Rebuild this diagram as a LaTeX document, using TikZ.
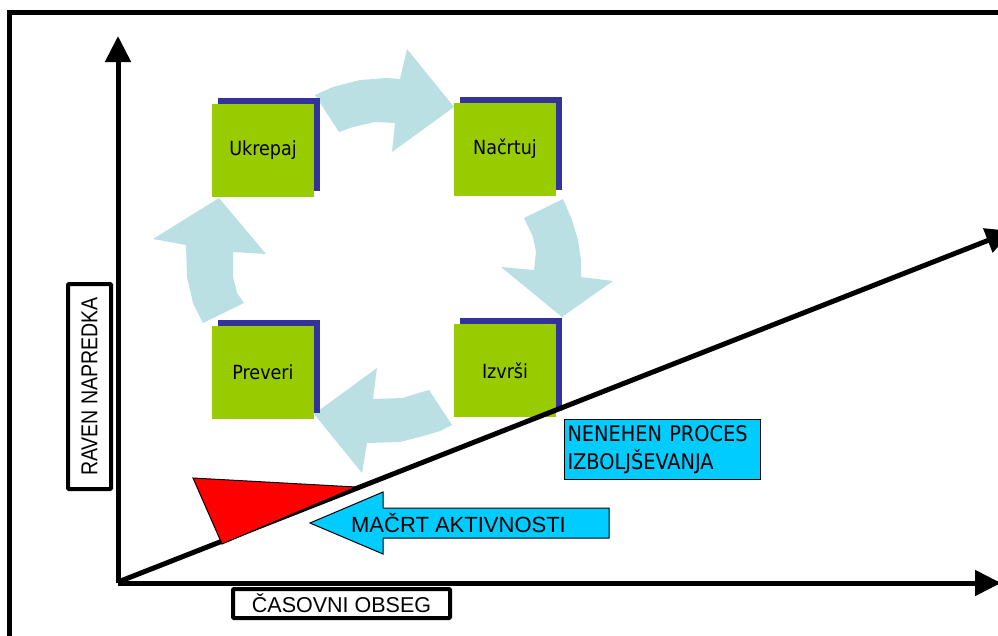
\documentclass[tikz,border=0pt]{standalone}
\usepackage{fontspec}
\setmainfont{Liberation Sans}
\newfontfamily\boxfont{DejaVu Sans Condensed}
\newfontfamily\narrowfont[FakeStretch=0.85]{Liberation Sans}
\usetikzlibrary{arrows.meta,shadows}

\definecolor{phasegreen}{HTML}{99CC00}
\definecolor{phaseblue}{HTML}{333399}
\definecolor{cyclecyan}{HTML}{BBE0E3}
\definecolor{labelcyan}{HTML}{00CCFF}

\begin{document}
\begin{tikzpicture}[x=1pt,y=-1pt,
    phase/.style={fill=phasegreen, minimum width=102pt, minimum height=93pt, inner sep=0pt,
        font=\boxfont\fontsize{19.5}{23}\selectfont,
        general shadow={fill=phaseblue, shadow xshift=6pt, shadow yshift=6pt}},
    cyclearrow/.style={fill=cyclecyan},
    axis/.style={line width=5pt, -{Triangle[width=25pt,length=26pt]}},
    tag/.style={draw, line width=4pt, fill=white, rounded corners=1pt, inner sep=0pt,
        font=\fontsize{21.5}{24}\selectfont}]
    \clip (0,0) rectangle (998,635);

    % Draw the outer frame
    \draw[line width=5pt] (9.5,645) -- (9.5,12.5) -- (1010,12.5);

    % Draw the four curved arrows of the cycle
    \fill[cyclearrow] (315,95) -- (333,87) -- (360,80) -- (387,78) -- (400,79) -- (407,49)
        -- (454,107) -- (392,152) -- (395,123) -- (375,122) -- (353,127) -- (339,132) -- cycle;
    \fill[cyclearrow] (563,199) -- (572,220) -- (578,240) -- (581,260) -- (581,277) -- (613,281)
        -- (562,317) -- (501,267) -- (534,270) -- (536,252) -- (533,237) -- (524,218) -- cycle;
    \fill[cyclearrow] (452,425) -- (440,431) -- (427,435) -- (400,442) -- (367,443) -- (362,473)
        -- (314,414) -- (377,368) -- (373,399) -- (403,398) -- (415,394) -- (429,390) -- cycle;
    \fill[cyclearrow] (203,323) -- (193,303) -- (187,277) -- (186,245) -- (153,239) -- (219,198)
        -- (266,254) -- (233,252) -- (233,277) -- (237,293) -- (244,303) -- cycle;

    % Place the four steps of the cycle
    \node[phase] (ukrepaj) at (263,150.5) {Ukrepaj};
    \node[phase] (nacrtuj) at (505,149) {Načrtuj};
    \node[phase] (preveri) at (263,372.5) {Preveri};
    \node[phase] (izvrsi) at (505,370.5) {Izvrši};

    % Axes and the rising line
    \coordinate (o) at (118,583);
    \coordinate (ytip) at (118,36);
    \coordinate (xtip) at (1001,583);
    \coordinate (dstart) at (118,582);
    \coordinate (dtip) at (1012,231);
    \draw[axis] (o) -- (ytip);
    \draw[axis] (o) -- (xtip);
    \draw[axis] (dstart) -- (dtip);

    % Red wedge under the line
    \filldraw[fill=red, line width=1pt] (193,478) -- (222,544) -- (356,487) -- cycle;

    % Axis labels
    \node[tag, rotate=90, minimum width=205pt, minimum height=43pt,
        font=\narrowfont\fontsize{23}{26}\selectfont] (level) at (89.5,386.5) {RAVEN NAPREDKA};
    \node[tag, minimum width=217pt, minimum height=29pt] (time) at (341.5,603.5) {ČASOVNI OBSEG};

    % Process label
    \node[draw, fill=labelcyan, line width=1pt, anchor=north west, text width=190pt, inner sep=3pt,
        minimum height=60pt, align=left, font=\boxfont\fontsize{21.5}{28}\selectfont] (proc) at (564,419)
        {NENEHEN PROCES\\IZBOLJŠEVANJA};

    % Block arrow with its text
    \filldraw[fill=labelcyan, line width=1pt] (310,523) -- (383,492) -- (383,508) -- (609,508)
        -- (609,538) -- (383,538) -- (383,554) -- cycle;
    \node[font=\fontsize{22}{26}\selectfont] (act) at (458.5,523) {MAČRT AKTIVNOSTI};
\end{tikzpicture}
\end{document}
